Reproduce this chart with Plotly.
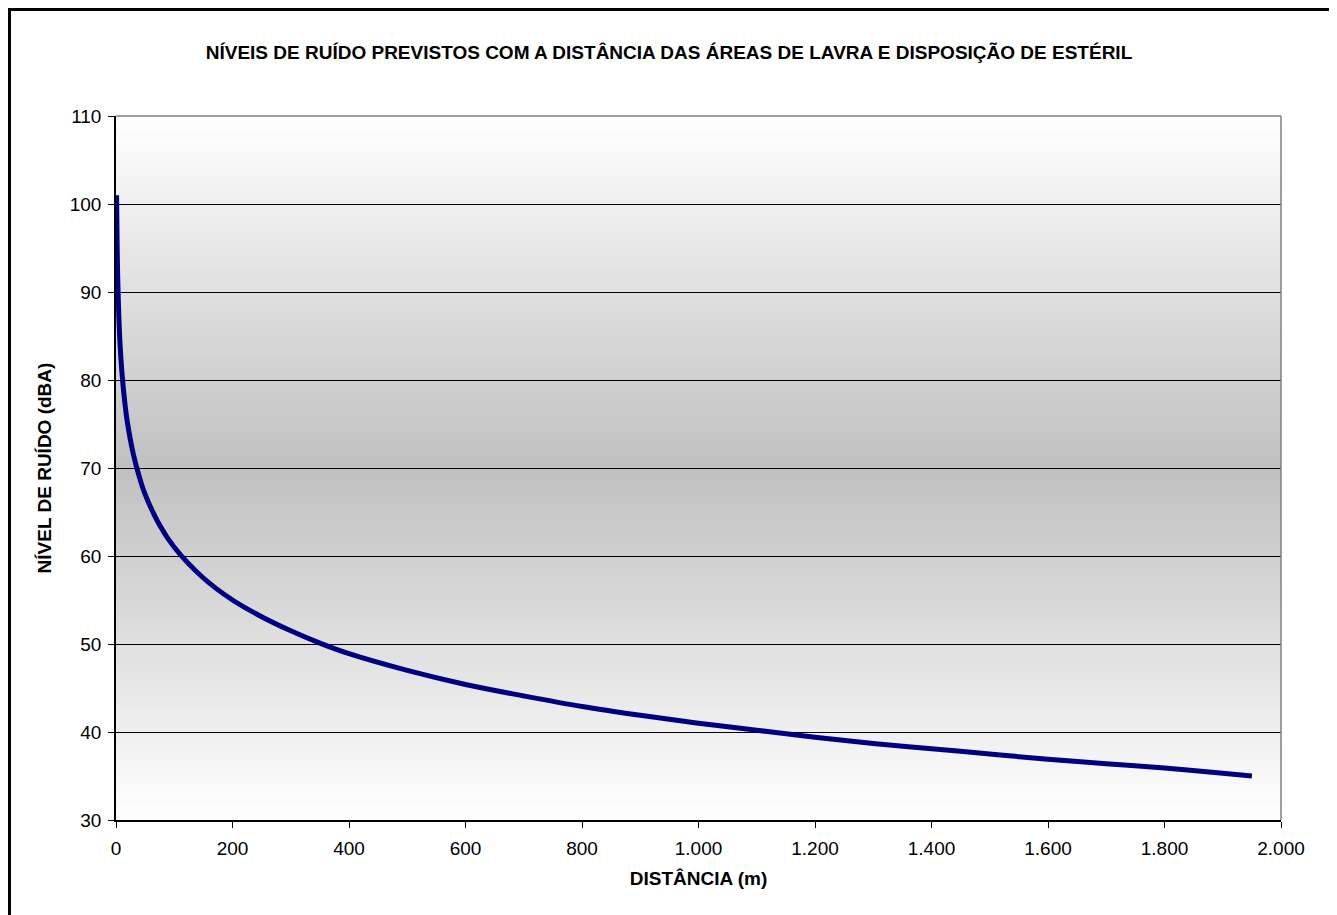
import plotly.graph_objects as go

# distances (m) and predicted noise levels (dBA)
distancia = [1, 2, 3, 5, 7, 10, 15, 20, 30, 40, 50, 75, 100, 150, 200, 250, 300,
             350, 400, 500, 600, 700, 800, 900, 1000, 1100, 1200, 1300, 1400,
             1500, 1600, 1700, 1800, 1900, 1950]
nivel = [101.0, 95.0, 91.5, 87.0, 84.0, 81.0, 77.5, 75.0, 71.5, 69.0, 67.0, 63.5,
         61.0, 57.5, 55.0, 53.1, 51.5, 50.1, 48.9, 47.0, 45.4, 44.1, 42.9, 41.9,
         41.0, 40.2, 39.4, 38.7, 38.1, 37.5, 36.9, 36.4, 35.9, 35.3, 35.0]

x_ticks = [0, 200, 400, 600, 800, 1000, 1200, 1400, 1600, 1800, 2000]
y_ticks = [30, 40, 50, 60, 70, 80, 90, 100, 110]

FONT = "Arial, Liberation Sans, sans-serif"

# page has an 8px body margin, so the figure is a bit smaller than the window
W, H = 1329, 907
L, R, T, B = 108, 56, 108, 95
pw = W - L - R
ph = H - T - B


def px_x(p):
    # figure pixel -> paper x
    return (p - L) / pw


def px_y(p):
    # figure pixel -> paper y
    return (T + ph - p) / ph


fig = go.Figure()
fig.add_trace(go.Scatter(x=distancia, y=nivel, mode="lines",
                         line=dict(color="#000080", width=5, shape="spline"),
                         hoverinfo="x+y"))

# excel-like gradient background: white -> gray -> white
shapes = []
n = 160
for i in range(n):
    t = (i + 0.5) / n
    g = int(round(255 - 63 * (1 - abs(2 * t - 1))))
    shapes.append(dict(type="rect", xref="x domain", yref="y domain",
                       x0=0, x1=1, y0=i / n, y1=min(1, (i + 1.6) / n),
                       fillcolor=f"rgb({g},{g},{g})", line=dict(width=0),
                       layer="below"))
# top and right border of plot area
shapes.append(dict(type="line", xref="paper", yref="paper", x0=0, x1=1, y0=1, y1=1,
                   line=dict(color="#808080", width=1.5)))
shapes.append(dict(type="line", xref="paper", yref="paper", x0=1, x1=1, y0=0, y1=1,
                   line=dict(color="#808080", width=1.5)))
# outer chart frame
shapes.append(dict(type="rect", xref="paper", yref="paper",
                   x0=px_x(1.5), x1=px_x(1324), y0=px_y(H + 20), y1=px_y(1.5),
                   line=dict(color="black", width=3), fillcolor="rgba(0,0,0,0)"))

fig.update_layout(
    width=W, height=H,
    margin=dict(l=L, r=R, t=T, b=B),
    paper_bgcolor="white", plot_bgcolor="white",
    separators=",.",
    showlegend=False,
    font=dict(family=FONT, size=19, color="black"),
    title=dict(text="<b>NÍVEIS DE RUÍDO PREVISTOS COM A DISTÂNCIA DAS ÁREAS DE LAVRA E DISPOSIÇÃO DE ESTÉRIL</b>",
               x=661 / W, xanchor="center",
               y=1 - 44 / H, yanchor="middle",
               font=dict(family=FONT, size=19, color="black")),
    shapes=shapes,
)
fig.update_xaxes(range=[0, 2000], tickvals=x_ticks, separatethousands=True,
                 showgrid=False, zeroline=False,
                 showline=True, linecolor="black", linewidth=1.5,
                 ticks="outside", ticklen=6, tickcolor="black",
                 tickfont=dict(size=19), ticklabelstandoff=4,
                 title=dict(text="<b>DISTÂNCIA (m)</b>", font=dict(size=19), standoff=14))
fig.update_yaxes(range=[30, 110], tickvals=y_ticks,
                 showgrid=True, gridcolor="black", gridwidth=1, zeroline=False,
                 showline=True, linecolor="black", linewidth=1.5,
                 ticks="outside", ticklen=6, tickcolor="black",
                 tickfont=dict(size=19), ticklabelstandoff=3,
                 title=dict(text="<b>NÍVEL DE RUÍDO (dBA)</b>", font=dict(size=19), standoff=13))

fig.write_html("out.html")
